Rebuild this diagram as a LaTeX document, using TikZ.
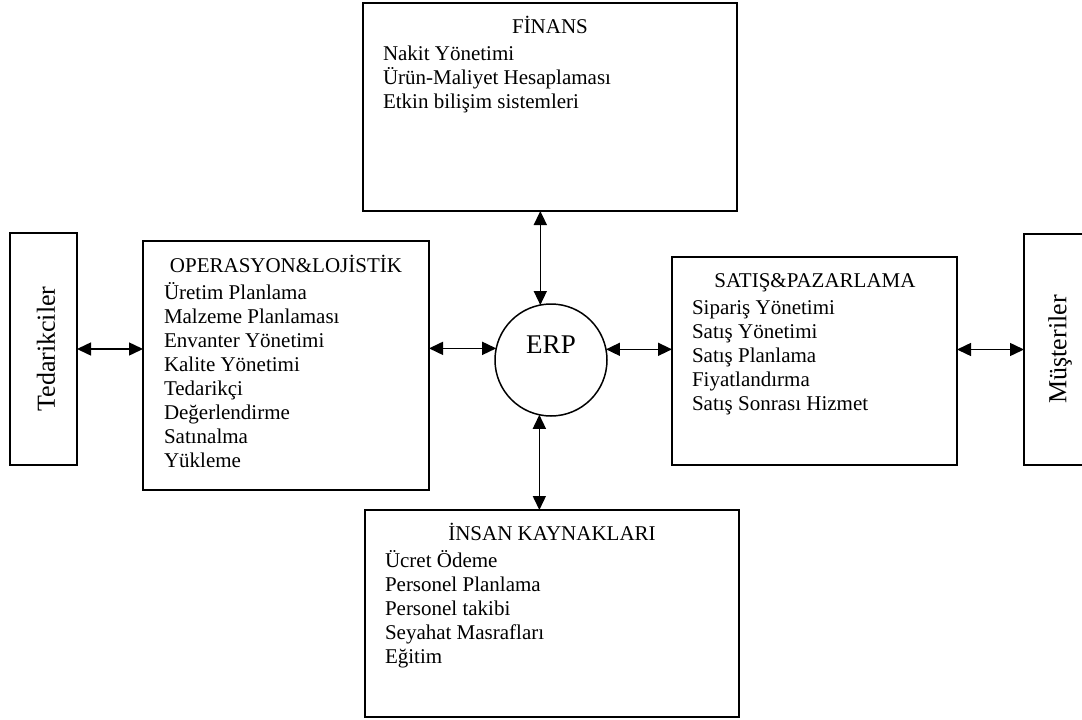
\documentclass[tikz,border=0pt]{standalone}
\usepackage{fontspec}
\setmainfont{Liberation Serif}
\usetikzlibrary{arrows.meta}
\begin{document}
\begin{tikzpicture}[x=1pt,y=-1pt,
  box/.style={draw, line width=1.6pt, rectangle, inner sep=0pt, outer sep=0pt},
  hub/.style={draw, line width=1.5pt, circle, minimum size=112pt, inner sep=0pt, outer sep=0pt},
  txt/.style={font=\fontsize{21}{24}\selectfont, inner sep=0pt, outer sep=0pt},
  head/.style={txt, anchor=base},
  item/.style={txt, anchor=base west},
  side/.style={font=\fontsize{26}{30}\selectfont, rotate=90, inner sep=0pt},
  link/.style={line width=1.5pt,
    {Triangle[length=14pt,width=13pt]}-{Triangle[length=14pt,width=13pt]}}
]
\useasboundingbox (0,0) rectangle (1082,720);
\clip (0,0) rectangle (1082,720);

% outer partners
\node[box, minimum width=67pt, minimum height=232pt] (ted) at (43.5,349) {};
\node[side] (tedl) at (46,349) {Tedarikciler};
\node[box, minimum width=72pt, minimum height=231pt] (mus) at (1060,349.5) {};
\node[side] (musl) at (1060,349.5) {Müşteriler};

% central hub
\node[hub] (erp) at (551,360) {};
\node[font=\fontsize{27}{30}\selectfont, anchor=base, inner sep=0pt] (erpl) at (551,353) {ERP};

% operations and logistics
\node[box, minimum width=286pt, minimum height=249pt] (ops) at (286,365.5) {};
\node[head] (opsh) at (286,272) {OPERASYON\&LOJİSTİK};
\foreach \t [count=\i] in {Üretim Planlama, Malzeme Planlaması, Envanter Yönetimi,
    Kalite Yönetimi, Tedarikçi, Değerlendirme, Satınalma, Yükleme}
  \node[item] (ops-\i) at (164,{299+24*(\i-1)}) {\t};

% finance
\node[box, minimum width=374pt, minimum height=208pt] (fin) at (550,107) {};
\node[head] (finh) at (550,34) {FİNANS};
\foreach \t [count=\i] in {Nakit Yönetimi, Ürün-Maliyet Hesaplaması, Etkin bilişim sistemleri}
  \node[item] (fin-\i) at (383,{60+24*(\i-1)}) {\t};

% sales and marketing
\node[box, minimum width=285pt, minimum height=208pt] (sat) at (814.5,361) {};
\node[head] (sath) at (815,287) {SATIŞ\&PAZARLAMA};
\foreach \t [count=\i] in {Sipariş Yönetimi, Satış Yönetimi, Satış Planlama,
    Fiyatlandırma, Satış Sonrası Hizmet}
  \node[item] (sat-\i) at (692,{314+24*(\i-1)}) {\t};

% human resources
\node[box, minimum width=374pt, minimum height=207pt] (ins) at (552,613.5) {};
\node[head] (insh) at (552,540) {İNSAN KAYNAKLARI};
\foreach \t [count=\i] in {Ücret Ödeme, Personel Planlama, Personel takibi,
    Seyahat Masrafları, Eğitim}
  \node[item] (ins-\i) at (385,{567+24*(\i-1)}) {\t};

% connectors
\draw[link] (ted.east) -- (ted.east -| ops.west);
\draw[link] (ops.east |- erp.168.7) -- (erp.168.7);
\draw[link] (erp.11.3) -- (sat.west |- erp.11.3);
\draw[link] (sat.east |- mus.west) -- (mus.west);
\draw[link] (fin.south -| erp.101.3) -- (erp.101.3);
\draw[link] (erp.258.7) -- (ins.north -| erp.258.7);
\end{tikzpicture}
\end{document}
